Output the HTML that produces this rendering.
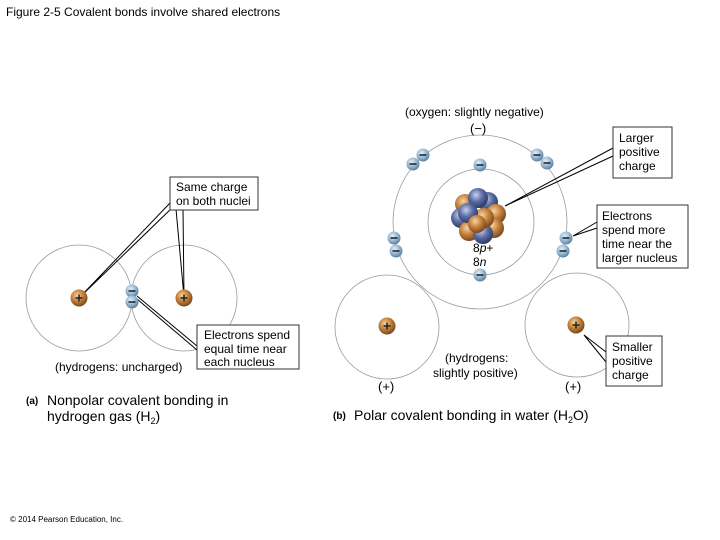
<!DOCTYPE html>
<html><head><style>
body{margin:0;background:#fff;width:720px;height:540px;overflow:hidden;font-family:"Liberation Sans",Arial,sans-serif}
svg{display:block}
text{font-family:"Liberation Sans",Arial,sans-serif}
</style></head><body>
<svg width="720" height="540" viewBox="0 0 720 540" xmlns="http://www.w3.org/2000/svg">
<defs>
<radialGradient id="p" cx="40%" cy="35%" r="65%"><stop offset="0" stop-color="#f6d3a3"/><stop offset="0.5" stop-color="#c8843e"/><stop offset="1" stop-color="#7a4a1c"/></radialGradient>
<radialGradient id="e" cx="40%" cy="35%" r="65%"><stop offset="0" stop-color="#e6f0f8"/><stop offset="0.6" stop-color="#93b4cf"/><stop offset="1" stop-color="#5f7f9c"/></radialGradient>
<radialGradient id="n" cx="40%" cy="35%" r="65%"><stop offset="0" stop-color="#c8d2ea"/><stop offset="0.5" stop-color="#5d6fa6"/><stop offset="1" stop-color="#2f3b66"/></radialGradient>
<g id="el"><circle r="6.5" fill="url(#e)"/><rect x="-3.5" y="-0.8" width="7" height="1.6" fill="#1b2b3a"/></g>
<g id="pr"><circle r="8.5" fill="url(#p)"/><path d="M-3.5 0H3.5M0 -3.5V3.5" stroke="#222" stroke-width="1.5"/></g>
</defs>
<text x="6" y="16" font-size="12">Figure 2-5 Covalent bonds involve shared electrons</text>

<g fill="none" stroke="#999" stroke-width="0.8">
<circle cx="79" cy="298" r="53"/><circle cx="184" cy="298" r="53"/>
</g>
<g stroke="#000" stroke-width="1" fill="none">
<path d="M170 203L80 297M174 206L80 297"/>
<path d="M176 209L184 297M183 209L184 297"/>
<path d="M137 296L197 346M137 299L197 350"/>
</g>
<use href="#pr" x="79" y="298"/><use href="#pr" x="184" y="298"/>
<use href="#el" x="132" y="291"/><use href="#el" x="132" y="302"/>
<rect x="170" y="177" width="88" height="33" fill="#fff" stroke="#333"/>
<text x="176" y="191" font-size="12">Same charge</text>
<text x="176" y="205" font-size="12">on both nuclei</text>
<rect x="197" y="325" width="102" height="44" fill="#fff" stroke="#333"/>
<text x="204" y="339" font-size="12">Electrons spend</text>
<text x="204" y="353" font-size="12">equal time near</text>
<text x="204" y="366" font-size="12">each nucleus</text>
<text x="55" y="371" font-size="12">(hydrogens: uncharged)</text>
<text x="26" y="404" font-size="10" font-weight="bold">(a)</text>
<text x="47" y="405" font-size="14">Nonpolar covalent bonding in</text>
<text x="47" y="421" font-size="14">hydrogen gas (H<tspan font-size="9" dy="3">2</tspan><tspan dy="-3">)</tspan></text>
<text x="10" y="522" font-size="8">© 2014 Pearson Education, Inc.</text>

<g fill="none" stroke="#999" stroke-width="0.8">
<circle cx="480" cy="222" r="87"/><circle cx="481" cy="222" r="53"/>
<circle cx="387" cy="327" r="52"/><circle cx="577" cy="325" r="52"/>
</g>
<g stroke="#000" stroke-width="1" fill="none">
<path d="M505 206L613 148M505 206L613 156"/>
<path d="M573 236L597 222M573 236L597 228"/>
<path d="M584 335L606 352M584 335L606 362"/>
</g>
<g>
<circle cx="465" cy="204" r="10" fill="url(#p)"/><circle cx="488" cy="202" r="10" fill="url(#n)"/>
<circle cx="496" cy="214" r="10" fill="url(#p)"/><circle cx="461" cy="218" r="10" fill="url(#n)"/>
<circle cx="478" cy="198" r="10" fill="url(#n)"/><circle cx="494" cy="228" r="10" fill="url(#p)"/>
<circle cx="469" cy="231" r="10" fill="url(#p)"/><circle cx="483" cy="234" r="10" fill="url(#n)"/>
<circle cx="484" cy="218" r="10" fill="url(#p)"/><circle cx="468" cy="213" r="10" fill="url(#n)"/>
<circle cx="477" cy="224" r="9" fill="url(#p)"/>
</g>
<text x="473" y="252" font-size="12">8<tspan font-style="italic">p</tspan>+</text>
<text x="473" y="266" font-size="12">8<tspan font-style="italic">n</tspan></text>
<use href="#el" x="480" y="165"/><use href="#el" x="480" y="275"/>
<use href="#el" x="423" y="155"/><use href="#el" x="413" y="164"/>
<use href="#el" x="537" y="155"/><use href="#el" x="547" y="163"/>
<use href="#el" x="394" y="238"/><use href="#el" x="396" y="251"/>
<use href="#el" x="566" y="238"/><use href="#el" x="563" y="251"/>
<use href="#pr" x="387" y="326"/><use href="#pr" x="576" y="325"/>
<text x="405" y="116" font-size="12">(oxygen: slightly negative)</text>
<text x="470" y="133" font-size="13">(−)</text>
<rect x="613" y="127" width="59" height="51" fill="#fff" stroke="#333"/>
<text x="619" y="142" font-size="12">Larger</text>
<text x="619" y="156" font-size="12">positive</text>
<text x="619" y="170" font-size="12">charge</text>
<rect x="597" y="205" width="91" height="63" fill="#fff" stroke="#333"/>
<text x="602" y="220" font-size="12">Electrons</text>
<text x="602" y="234" font-size="12">spend more</text>
<text x="602" y="248" font-size="12">time near the</text>
<text x="602" y="262" font-size="12">larger nucleus</text>
<rect x="606" y="336" width="56" height="50" fill="#fff" stroke="#333"/>
<text x="612" y="351" font-size="12">Smaller</text>
<text x="612" y="365" font-size="12">positive</text>
<text x="612" y="379" font-size="12">charge</text>
<text x="445" y="362" font-size="12">(hydrogens:</text>
<text x="433" y="377" font-size="12">slightly positive)</text>
<text x="378" y="391" font-size="13">(+)</text>
<text x="565" y="391" font-size="13">(+)</text>
<text x="333" y="419" font-size="10" font-weight="bold">(b)</text>
<text x="354" y="420" font-size="14">Polar covalent bonding in water (H<tspan font-size="9" dy="3">2</tspan><tspan dy="-3">O)</tspan></text>
</svg>
</body></html>
